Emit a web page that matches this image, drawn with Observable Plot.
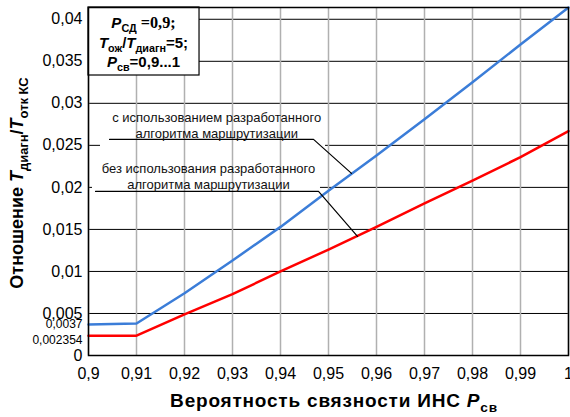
<!DOCTYPE html>
<html>
<head>
<meta charset="utf-8">
<script src="https://cdn.jsdelivr.net/npm/d3@7"></script>
<script src="https://cdn.jsdelivr.net/npm/@observablehq/plot@0.6"></script>
<style>
  body { margin: 0; background: #fff; }
  svg { display: block; }
</style>
</head>
<body>
<div id="chart"></div>
<script>
// Probability of network connectivity (x axis)
const pConnectivity = [0.9, 0.91, 0.92, 0.93, 0.94, 0.95, 0.96, 0.97, 0.98, 0.99, 1.0];
// T_diag / T_fail ratio with and without the routing algorithm
const withRouting    = [0.0037, 0.0038, 0.0074, 0.0113, 0.0153, 0.0196, 0.0238, 0.0281, 0.0325, 0.0370, 0.0414];
const withoutRouting = [0.002354, 0.002354, 0.0049, 0.0073, 0.0100, 0.0126, 0.0153, 0.0181, 0.0208, 0.0236, 0.0267];

const xTicks = [0.9, 0.91, 0.92, 0.93, 0.94, 0.95, 0.96, 0.97, 0.98, 0.99, 1];
const yTicks = [0, 0.005, 0.01, 0.015, 0.02, 0.025, 0.03, 0.035, 0.04];
const startValues = [0.0037, 0.002354];

// Callout texts and their leader lines (data units)
const calloutText = [
  "с использованием разработанного\nалгоритма маршрутизации",
  "без использования разработанного\nалгоритма маршрутизации"
];
const calloutX = [0.9267, 0.925];
const calloutY = [0.02748, 0.02141];
const leaderWithX = [0.90438, 0.94688, 0.95479];
const leaderWithY = [0.02571, 0.02571, 0.02167];
const leaderWithoutX = [0.90146, 0.94792, 0.95604];
const leaderWithoutY = [0.01952, 0.01952, 0.01417];
// White backing behind the callouts
const maskX1 = [0.9025, 0.90083];
const maskX2 = [0.94938, 0.94833];
const maskY1 = [0.02439, 0.01903];
const maskY2 = [0.02974, 0.02379];
// Parameters box
const boxX = [0.9, 0.92313];
const boxY = [0.03331, 0.0414];

const sans = "'Liberation Sans', Arial, Helvetica, sans-serif";
const serif = "'Liberation Serif', 'Times New Roman', serif";
const comma = d => d === 0 ? "0" : String(d).replace(".", ",");

const series = [
  ...pConnectivity.map((x, i) => ({x, y: withRouting[i], s: "with"})),
  ...pConnectivity.map((x, i) => ({x, y: withoutRouting[i], s: "without"}))
];
const masks = maskX1.map((x1, i) => ({x1, x2: maskX2[i], y1: maskY1[i], y2: maskY2[i]}));
const callouts = calloutText.map((t, i) => ({t, x: calloutX[i], y: calloutY[i]}));

// Bold text built from runs: italic letters, subscripts, serif digits
function richText(g, runs, {x, y, size, anchor = "middle", rotate = 0, spacing = 0}) {
  const t = g.append("text")
    .attr("x", x).attr("y", y)
    .attr("text-anchor", anchor)
    .attr("font-size", size)
    .attr("font-weight", "bold")
    .attr("font-family", sans)
    .attr("letter-spacing", spacing)
    .attr("fill", "#000");
  if (rotate) t.attr("transform", `rotate(${rotate},${x},${y})`);
  let shift = 0;
  for (const r of runs) {
    const span = t.append("tspan").text(r.t);
    const target = r.sub ? size * 0.28 : 0;
    if (target !== shift) { span.attr("dy", target - shift); shift = target; }
    if (r.sub) span.attr("font-size", size * 0.72);
    if (r.italic) span.attr("font-style", "italic");
    if (r.serif) span.attr("font-family", serif).attr("font-size", size * 1.08);
  }
  return t;
}

function titles(index, scales, values, dim) {
  const g = d3.create("svg:g");
  const cx = (scales.x(boxX[0]) + scales.x(boxX[1])) / 2;
  const top = scales.y(boxY[1]);
  richText(g, [{t: "P", italic: true}, {t: "СД", sub: true}, {t: " =0,9;", serif: true}],
    {x: cx, y: top + 21, size: 15});
  richText(g, [{t: "T", italic: true}, {t: "ож", sub: true}, {t: "/"}, {t: "T", italic: true}, {t: "диагн", sub: true}, {t: "=5;"}],
    {x: cx, y: top + 41, size: 15});
  richText(g, [{t: "P", italic: true}, {t: "св", sub: true}, {t: "=0,9...1"}],
    {x: cx, y: top + 60, size: 15});
  // axis titles
  richText(g, [{t: "Вероятность связности ИНС "}, {t: "P", italic: true}, {t: "св", sub: true}],
    {x: 334, y: 407, size: 19, spacing: 0.8});
  richText(g, [{t: "Отношение "}, {t: "T", italic: true}, {t: "диагн", sub: true}, {t: "/"}, {t: "T", italic: true}, {t: "отк КС", sub: true}],
    {x: 23, y: 183, size: 18, rotate: -90});
  return g.node();
}

const chart = Plot.plot({
  width: 570,
  height: 417,
  marginLeft: 88,
  marginRight: 2,
  marginTop: 7,
  marginBottom: 62,
  style: {fontFamily: sans, background: "#fff", color: "#000"},
  x: {domain: [0.9, 1]},
  y: {domain: [0, 0.0414]},
  marks: [
    Plot.ruleY(yTicks, {stroke: "#000", strokeWidth: 1}),
    Plot.rect(masks, {x1: "x1", x2: "x2", y1: "y1", y2: "y2", fill: "#fff"}),
    Plot.ruleX(xTicks, {stroke: "#b0b0b0", strokeWidth: 1.5}),
    Plot.rect([0], {x1: boxX[0], x2: boxX[1], y1: boxY[0], y2: boxY[1], fill: "#fff", stroke: "#000", strokeWidth: 1.2}),
    Plot.line(series, {x: "x", y: "y", z: "s", stroke: d => d.s === "with" ? "#3b7dd8" : "#ff0000", strokeWidth: 2.5}),
    Plot.line(leaderWithX, {x: d => d, y: (d, i) => leaderWithY[i], stroke: "#000", strokeWidth: 1.2}),
    Plot.line(leaderWithoutX, {x: d => d, y: (d, i) => leaderWithoutY[i], stroke: "#000", strokeWidth: 1.2}),
    Plot.text(callouts, {x: "x", y: "y", text: "t", fontSize: 13, lineHeight: 1.25, fill: "#111"}),
    Plot.axisX({ticks: xTicks, tickFormat: comma, tickSize: 0, tickPadding: 12, fontSize: 16, label: null}),
    Plot.axisY({ticks: yTicks, tickFormat: comma, tickSize: 0, tickPadding: 6, fontSize: 16, label: null}),
    Plot.text([startValues[0]], {x: 0.9, y: d => d, text: comma, textAnchor: "end", dx: -6, fontSize: 12, clip: false}),
    Plot.text([startValues[1]], {x: 0.9, y: d => d, text: comma, textAnchor: "end", dx: -6, dy: 4, fontSize: 12, clip: false}),
    Plot.frame({stroke: "#000", strokeWidth: 1.5}),
    titles
  ]
});

document.getElementById("chart").appendChild(chart);
</script>
</body>
</html>
